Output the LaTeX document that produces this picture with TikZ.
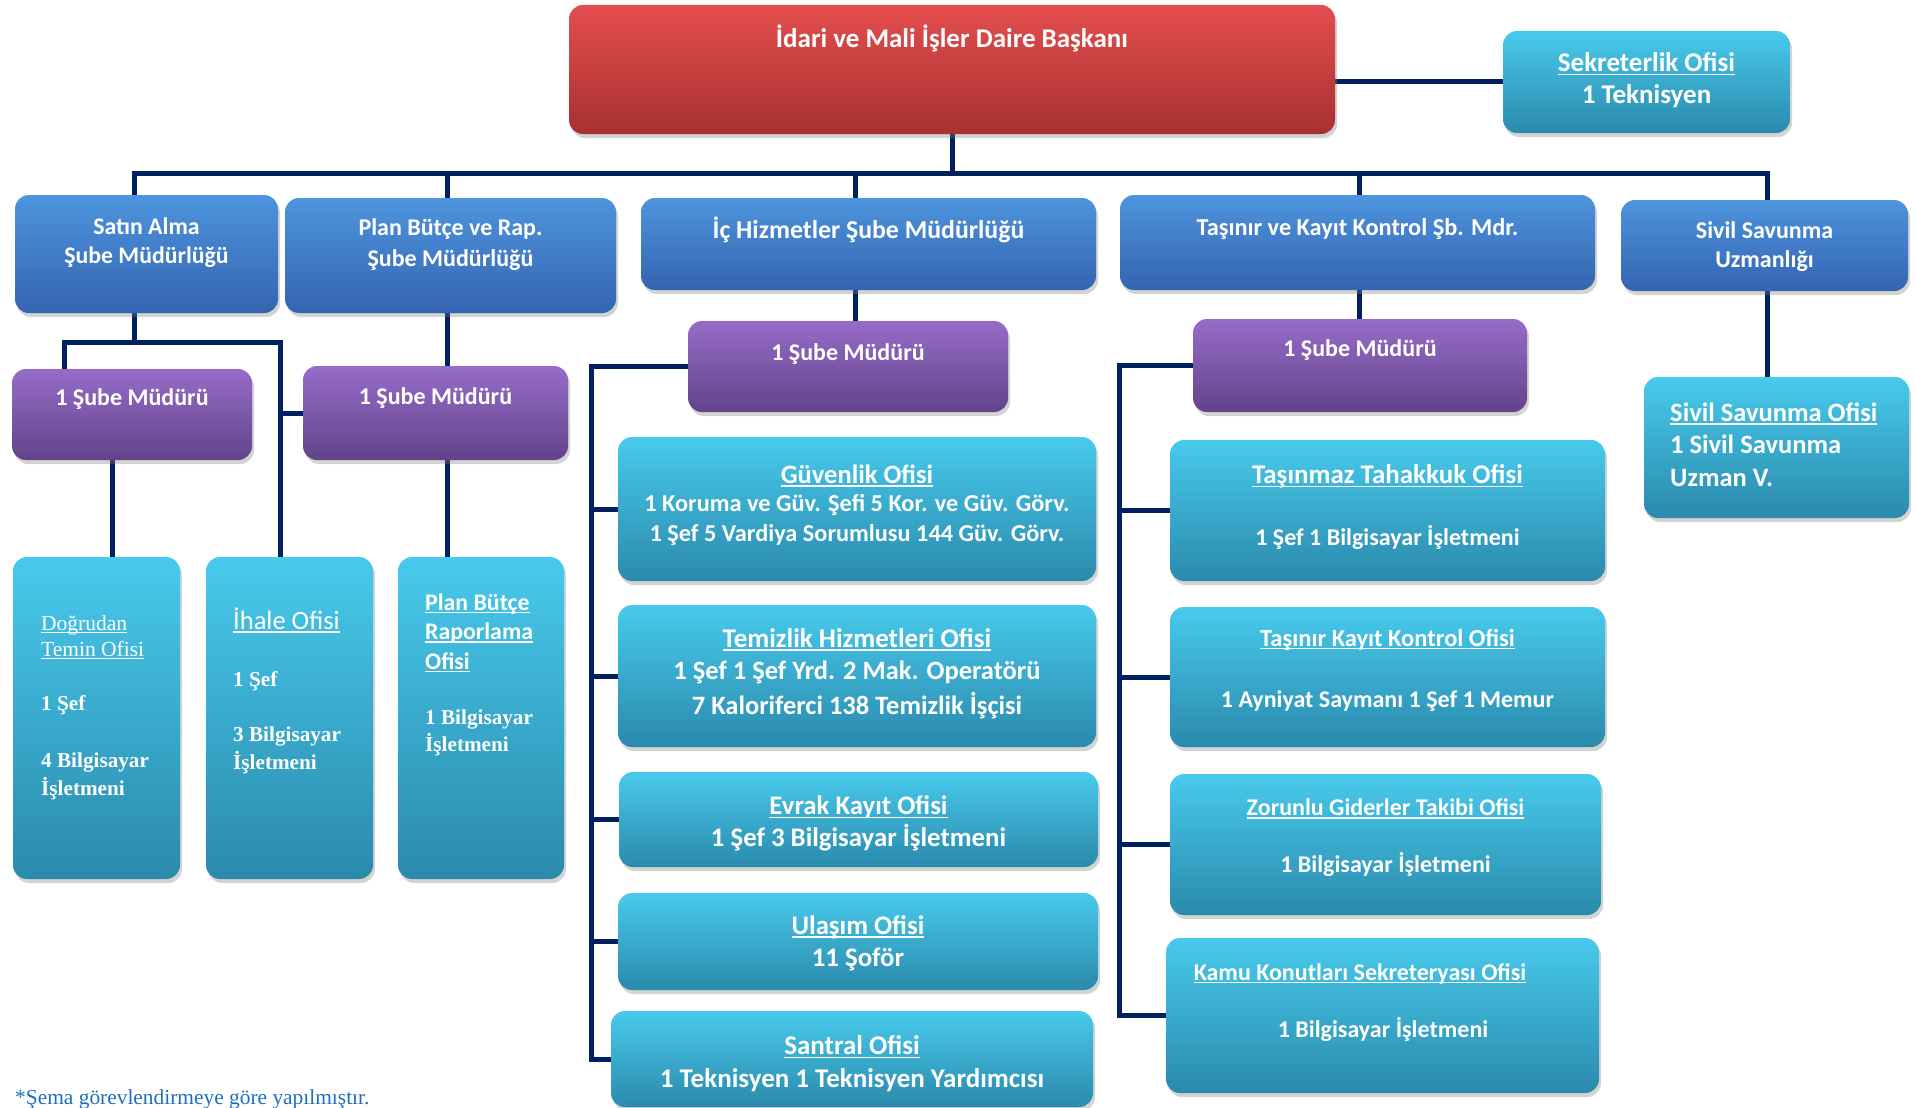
\documentclass[tikz,border=0pt]{standalone}
\usepackage{fontspec}
\setmainfont{Carlito}
\newfontfamily\tnr{Liberation Serif}
\usetikzlibrary{shadows,backgrounds}
\definecolor{navy}{RGB}{0,32,96}
\definecolor{redT}{RGB}{228,78,78}
\definecolor{redB}{RGB}{168,48,48}
\definecolor{bluT}{RGB}{78,148,222}
\definecolor{bluB}{RGB}{52,100,176}
\definecolor{purT}{RGB}{150,108,200}
\definecolor{purB}{RGB}{98,68,138}
\definecolor{cyT}{RGB}{72,202,236}
\definecolor{cyB}{RGB}{42,138,172}
\definecolor{fnc}{RGB}{30,110,190}
\newcommand\FB[2]{\bfseries\fontsize{#1}{#2}\selectfont}
\newcommand\FR[2]{\mdseries\fontsize{#1}{#2}\selectfont}
\newcommand\uln[1]{\setbox0\hbox{#1}\rlap{\rule[-0.13em]{\wd0}{0.06em}}\box0}
\tikzset{
  box/.style={rounded corners=14pt, draw=none, inner sep=0pt,
    drop shadow={shadow xshift=2pt, shadow yshift=-4pt, opacity=0.35}},
  redbox/.style={box, top color=redT, bottom color=redB},
  blubox/.style={box, top color=bluT, bottom color=bluB},
  purbox/.style={box, top color=purT, bottom color=purB},
  cybox/.style={box, top color=cyT, bottom color=cyB},
  wd/.style={minimum width=#1pt},
  ht/.style={minimum height=#1pt},
  tw/.style={text=white, align=center, inner sep=0pt, yshift=-2.5pt},
  twl/.style={text=white, align=left, inner sep=0pt, anchor=west, yshift=-2pt},
  conn/.style={draw=navy, line width=5pt, line join=miter},
}
\begin{document}
\begin{tikzpicture}[x=1pt,y=-1pt]
\useasboundingbox (0,0) rectangle (1915,1108);
% ---------- boxes ----------
\node[redbox, wd=766, ht=129] (head) at (952,69.5) {};
\node[cybox, wd=287, ht=102] (sek) at (1646.5,82) {};
\node[blubox, wd=263, ht=118] (sa) at (146.5,254) {};
\node[blubox, wd=331, ht=115] (pb) at (450.5,255.5) {};
\node[blubox, wd=455, ht=92] (ic) at (868.5,244) {};
\node[blubox, wd=475, ht=95] (tk) at (1357.5,242.5) {};
\node[blubox, wd=287, ht=91] (sv) at (1764.5,245.5) {};
\node[purbox, wd=240, ht=91] (sa1) at (132,414.5) {};
\node[purbox, wd=265, ht=94] (pb1) at (435.5,413) {};
\node[purbox, wd=320, ht=91] (ic1) at (848,366.5) {};
\node[purbox, wd=334, ht=93] (tk1) at (1360,365.5) {};
\node[cybox, wd=167, ht=322] (dt) at (96.5,718) {};
\node[cybox, wd=167, ht=322] (ih) at (289.5,718) {};
\node[cybox, wd=166, ht=322] (pr) at (481,718) {};
\node[cybox, wd=478, ht=144] (gv) at (857,509) {};
\node[cybox, wd=478, ht=142] (tm) at (857,676) {};
\node[cybox, wd=479, ht=95] (ev) at (858.5,819.5) {};
\node[cybox, wd=480, ht=97] (ul) at (858,941.5) {};
\node[cybox, wd=482, ht=96] (sn) at (852,1059) {};
\node[cybox, wd=435, ht=141] (tt) at (1387.5,510.5) {};
\node[cybox, wd=435, ht=140] (tkk) at (1387.5,677) {};
\node[cybox, wd=431, ht=141] (zg) at (1385.5,844.5) {};
\node[cybox, wd=433, ht=155] (km) at (1382.5,1015.5) {};
\node[cybox, wd=265, ht=141] (so) at (1776.5,447.5) {};
% ---------- texts ----------
\node[tw, font=\FB{27}{30}] (headT) at (952,36) {İdari ve Mali İşler Daire Başkanı};
\node[tw, font=\FB{27}{32}] (sekT) at (1646.5,78) {\uln{Sekreterlik Ofisi}\\1 Teknisyen};
\node[tw, font=\FB{23.8}{29}] (saT) at (146.5,240.5) {Satın Alma\\Şube Müdürlüğü};
\node[tw, font=\FB{24}{31}] (pbT) at (450.5,242.5) {Plan Bütçe ve Rap.\\Şube Müdürlüğü};
\node[tw, font=\FB{25.8}{29}] (icT) at (868.5,227) {İç Hizmetler Şube Müdürlüğü};
\node[tw, font=\FB{24.3}{29}] (tkT) at (1357.5,227) {Taşınır ve Kayıt Kontrol Şb. Mdr.};
\node[tw, font=\FB{24}{29}] (svT) at (1764.5,244.5) {Sivil Savunma\\Uzmanlığı};
\node[tw, font=\FB{24}{29}] (sa1T) at (132,397) {1 Şube Müdürü};
\node[tw, font=\FB{24}{29}] (pb1T) at (435.5,396) {1 Şube Müdürü};
\node[tw, font=\FB{24}{29}] (ic1T) at (848,352) {1 Şube Müdürü};
\node[tw, font=\FB{24}{29}] (tk1T) at (1360,348) {1 Şube Müdürü};
% left tall boxes
\node[twl, font=\tnr\FR{21.5}{26}] (dtA) at (41,635) {\uln{Doğrudan}\\\uln{Temin Ofisi}};
\node[twl, font=\tnr\FB{21.2}{26}] (dtB) at (41,703) {1 Şef};
\node[twl, font=\tnr\FB{21.2}{28}] (dtC) at (41,774) {4 Bilgisayar\\İşletmeni};
\node[twl, font=\FR{26.5}{30}] (ihA) at (233,618) {\uln{İhale Ofisi}};
\node[twl, font=\tnr\FB{21.2}{26}] (ihB) at (233,679) {1 Şef};
\node[twl, font=\tnr\FB{21.2}{28}] (ihC) at (233,748) {3 Bilgisayar\\İşletmeni};
\node[twl, font=\FB{23.8}{29.5}] (prA) at (425,631) {\uln{Plan Bütçe}\\\uln{Raporlama}\\\uln{Ofisi}};
\node[twl, font=\tnr\FB{21.2}{27}] (prB) at (425,730.5) {1 Bilgisayar\\İşletmeni};
% ic offices
\node[tw, font=\FB{26.5}{29}] (gvA) at (857,473) {\uln{Güvenlik Ofisi}};
\node[tw, font=\FB{24.3}{30}] (gvB) at (857,517) {1 Koruma ve Güv. Şefi 5 Kor. ve Güv. Görv.\\1 Şef 5 Vardiya Sorumlusu 144 Güv. Görv.};
\node[tw, font=\FB{27}{29}] (tmA) at (857,637) {\uln{Temizlik Hizmetleri Ofisi}};
\node[tw, font=\FB{26.5}{35}] (tmB) at (857,687.5) {1 Şef 1 Şef Yrd. 2 Mak. Operatörü\\7 Kaloriferci 138 Temizlik İşçisi};
\node[tw, font=\FB{26.8}{32}] (evT) at (858.5,821) {\uln{Evrak Kayıt Ofisi}\\1 Şef 3 Bilgisayar İşletmeni};
\node[tw, font=\FB{26.8}{32}] (ulT) at (858,940.5) {\uln{Ulaşım Ofisi}\\11 Şoför};
\node[tw, font=\FB{27}{33}] (snT) at (852,1061.5) {\uln{Santral Ofisi}\\1 Teknisyen 1 Teknisyen Yardımcısı};
% tk offices
\node[tw, font=\FB{27}{29}] (ttA) at (1387.5,474) {\uln{Taşınmaz Tahakkuk Ofisi}};
\node[tw, font=\FB{24}{29}] (ttB) at (1387.5,535) {1 Şef 1 Bilgisayar İşletmeni};
\node[tw, font=\FB{24.5}{29}] (tkkA) at (1387.5,637) {\uln{Taşınır Kayıt Kontrol Ofisi}};
\node[tw, font=\FB{24}{29}] (tkkB) at (1387.5,699) {1 Ayniyat Saymanı 1 Şef 1 Memur};
\node[tw, font=\FB{24}{29}] (zgA) at (1385.5,806) {\uln{Zorunlu Giderler Takibi Ofisi}};
\node[tw, font=\FB{24}{29}] (zgB) at (1385.5,862) {1 Bilgisayar İşletmeni};
\node[tw, font=\FB{24}{29}] (kmA) at (1360,971) {\uln{Kamu Konutları Sekreteryası Ofisi}};
\node[tw, font=\FB{24}{29}] (kmB) at (1383,1027) {1 Bilgisayar İşletmeni};
\node[twl, font=\FB{26.5}{32.5}] (soT) at (1670,442.5) {\uln{Sivil Savunma Ofisi}\\1 Sivil Savunma\\Uzman V.};
\node[anchor=west, inner sep=0pt, text=fnc, font=\tnr\FR{21.4}{22}] (fn) at (15,1099) {*Şema görevlendirmeye göre yapılmıştır.};
% ---------- connectors ----------
\coordinate (busL) at (134,173);
\coordinate (busR) at (1767,173);
\coordinate (dPB) at (447,173);
\coordinate (dIC) at (855,173);
\coordinate (dTK) at (1359,173);
\coordinate (saJ) at (134,342);
\coordinate (saJL) at (64,342);
\coordinate (saJR) at (280,342);
\coordinate (x112) at (112,0);
\coordinate (icV) at (591,0);
\coordinate (tkV) at (1119,0);
\begin{pgfonlayer}{background}
\draw[conn] (head.south) -- (head.south |- busL);
\draw[conn] (sa.north -| busL) -- (busL) -- (busR) -- (sv.north -| busR);
\draw[conn] (dPB) -- (pb.north -| dPB);
\draw[conn] (dIC) -- (ic.north -| dIC);
\draw[conn] (dTK) -- (tk.north -| dTK);
\draw[conn] (sek.west) -- (sek.west -| head.east);
\draw[conn] (sa.south -| busL) -- (saJ);
\draw[conn] (sa1.north -| saJL) -- (saJL) -- (saJR) -- (ih.north -| saJR);
\draw[conn] (pb1.west) -- (pb1.west -| saJR);
\draw[conn] (pb.south -| dPB) -- (pb1.north -| dPB);
\draw[conn] (pb1.south -| dPB) -- (pr.north -| dPB);
\draw[conn] (sa1.south -| x112) -- (dt.north -| x112);
\draw[conn] (ic.south -| dIC) -- (ic1.north -| dIC);
\draw[conn] (ic1.west) -- (ic1.west -| icV) -- (sn.west -| icV) -- (sn.west);
\foreach \n in {gv,tm,ev,ul} \draw[conn] (\n.west -| icV) -- (\n.west);
\draw[conn] (tk.south -| dTK) -- (tk1.north -| dTK);
\draw[conn] (tk1.west) -- (tk1.west -| tkV) -- (km.west -| tkV) -- (km.west);
\foreach \n in {tt,tkk,zg} \draw[conn] (\n.west -| tkV) -- (\n.west);
\draw[conn] (sv.south -| busR) -- (so.north -| busR);
\end{pgfonlayer}
\end{tikzpicture}
\end{document}
